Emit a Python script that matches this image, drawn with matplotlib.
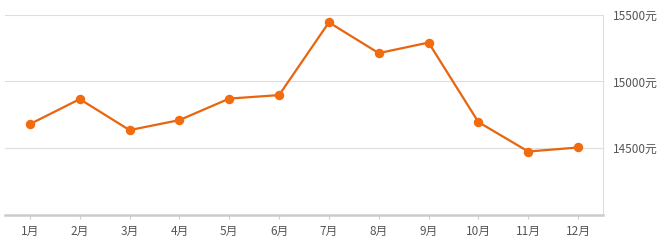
import matplotlib
matplotlib.use("Agg")
import matplotlib.pyplot as plt

plt.rcParams['font.family'] = ['Noto Sans CJK SC', 'DejaVu Sans']

months = ["1月", "2月", "3月", "4月", "5月", "6月", "7月", "8月", "9月", "10月", "11月", "12月"]
prices = [14680, 14867, 14635, 14710, 14871, 14897, 15441, 15211, 15290, 14695, 14475, 14505]
yticks = [14500, 15000, 15500]
ytick_labels = ["14500元", "15000元", "15500元"]

fig = plt.figure(figsize=(6.68, 2.4), dpi=100)
ax = fig.add_axes([5/668, 25/240, 598/668, (240-25-14.5)/240])

x = list(range(len(months)))
ax.plot(x, prices, color='#E8650F', lw=1.6, marker='o', markersize=5.8,
        markerfacecolor='#F26B0F', markeredgecolor='#F26B0F', zorder=3)

ax.set_xlim(-0.5, len(months) - 0.5)
ax.set_ylim(14000, 15500)
ax.set_xticks(x)
ax.set_xticklabels(months)
ax.set_yticks(yticks)
ax.set_yticklabels(ytick_labels)
ax.yaxis.tick_right()
ax.tick_params(axis='y', length=0, pad=7.5, labelsize=8.5, labelcolor='#555555')
ax.tick_params(axis='x', length=3, width=0.8, color='#cccccc', pad=4, labelsize=8.5, labelcolor='#555555')
ax.grid(axis='y', color='#dddddd', lw=0.8)
ax.set_axisbelow(True)
for s in ['left', 'top']:
    ax.spines[s].set_visible(False)
ax.spines['bottom'].set_color('#cccccc')
ax.spines['bottom'].set_linewidth(1.8)
ax.spines['right'].set_color('#dddddd')
ax.spines['right'].set_linewidth(0.8)

fig.savefig("out.png", dpi=100)
